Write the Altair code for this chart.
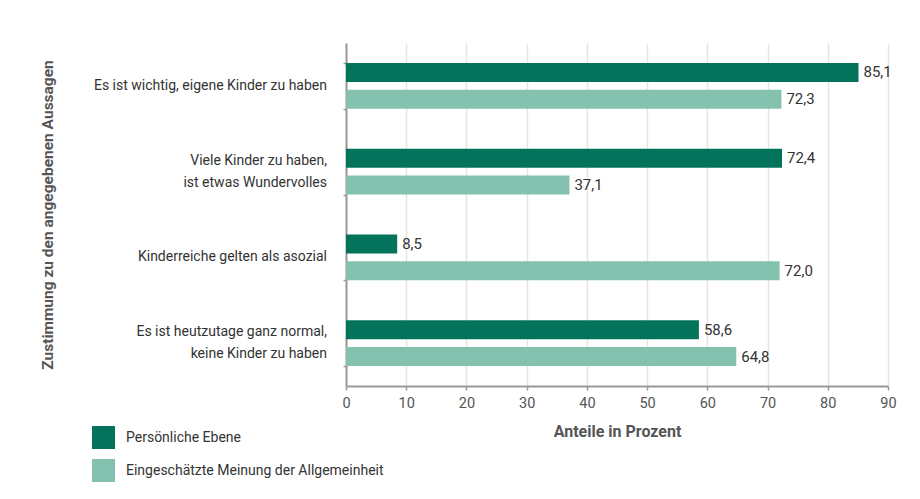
import altair as alt
import pandas as pd

statements = [
    "Es ist wichtig, eigene Kinder zu haben",
    "Viele Kinder zu haben,|ist etwas Wundervolles",
    "Kinderreiche gelten als asozial",
    "Es ist heutzutage ganz normal,|keine Kinder zu haben",
]
series = ["Persönliche Ebene", "Eingeschätzte Meinung der Allgemeinheit"]
personal = [85.1, 72.4, 8.5, 58.6]
general = [72.3, 37.1, 72.0, 64.8]
colors = ["#04735C", "#84C1AF"]
x_ticks = [0, 10, 20, 30, 40, 50, 60, 70, 80, 90]

rows = []
for s, p, g in zip(statements, personal, general):
    rows.append({"statement": s, "series": series[0], "value": p})
    rows.append({"statement": s, "series": series[1], "value": g})
df = pd.DataFrame(rows)
df["label"] = df["value"].map(lambda v: f"{v:.1f}".replace(".", ","))
cat_df = pd.DataFrame({"statement": statements})

FONT = "Roboto, sans-serif"

y_enc = alt.Y(
    "statement:N",
    sort=statements,
    scale=alt.Scale(paddingInner=0.4636, paddingOuter=0.2318),
    axis=alt.Axis(
        title="Zustimmung zu den angegebenen Aussagen",
        labels=False,
        tickBand="extent",
        grid=False,
        tickSize=3,
        domainColor="#999999",
        domainWidth=2,
        tickColor="#999999",
        tickWidth=1.5,
        titleFontSize=15.5,
        titleFontWeight="bold",
        titleColor="#555555",
        titleX=-299,
        titleBaseline="middle",
    ),
)
y_plain = alt.Y("statement:N", sort=statements)
y_off = alt.YOffset(
    "series:N", sort=series, scale=alt.Scale(paddingInner=0.2963, paddingOuter=0)
)
x_enc = alt.X(
    "value:Q",
    scale=alt.Scale(domain=[0, 90], nice=False),
    axis=alt.Axis(
        values=x_ticks,
        title="Anteile in Prozent",
        grid=True,
        gridColor="#e8e6dc",
        gridWidth=1.5,
        tickSize=4,
        tickColor="#999999",
        tickWidth=1.5,
        domainColor="#999999",
        domainWidth=2,
        labelFontSize=14.5,
        labelColor="#555555",
        labelPadding=6,
        labelFlush=False,
        titleFontSize=16,
        titleFontWeight="bold",
        titleColor="#555555",
        titlePadding=14,
    ),
)
color_enc = alt.Color(
    "series:N",
    sort=series,
    scale=alt.Scale(domain=series, range=colors),
    legend=alt.Legend(
        title=None,
        orient="none",
        legendX=-254,
        legendY=383,
        symbolType="square",
        symbolSize=529,
        symbolStrokeWidth=0,
        symbolOpacity=1,
        labelFontSize=14,
        labelColor="#333333",
        labelOffset=11,
        rowPadding=10,
        padding=0,
        labelLimit=500,
    ),
)

bars = alt.Chart(df).mark_bar().encode(x=x_enc, y=y_enc, yOffset=y_off, color=color_enc)
texts = alt.Chart(df).mark_text(
    align="left", baseline="middle", dx=5, fontSize=15, color="#333333", font=FONT
).encode(x="value:Q", y=y_plain, yOffset=y_off, text="label:N")

cat_base = alt.Chart(cat_df).transform_calculate(lines="split(datum.statement, '|')")
single = cat_base.transform_filter("indexof(datum.statement, '|') < 0").mark_text(
    align="right", baseline="middle", fontSize=14, color="#333333", font=FONT, lineHeight=22
).encode(x=alt.value(-19), y=y_plain, text="lines:N")
double = cat_base.transform_filter("indexof(datum.statement, '|') >= 0").mark_text(
    align="right", baseline="middle", dy=-11, fontSize=14, color="#333333", font=FONT, lineHeight=22
).encode(x=alt.value(-19), y=y_plain, text="lines:N")

chart = (
    alt.layer(bars, texts, single, double)
    .properties(
        width=542,
        height=343,
        autosize=alt.AutoSizeParams(type="none"),
        padding={"left": 338, "top": 35, "right": 20, "bottom": 100},
        background="white",
    )
    .configure(font=FONT)
    .configure_view(stroke=None)
)

chart.save("out.html", embed_options={"renderer": "svg", "actions": False})
